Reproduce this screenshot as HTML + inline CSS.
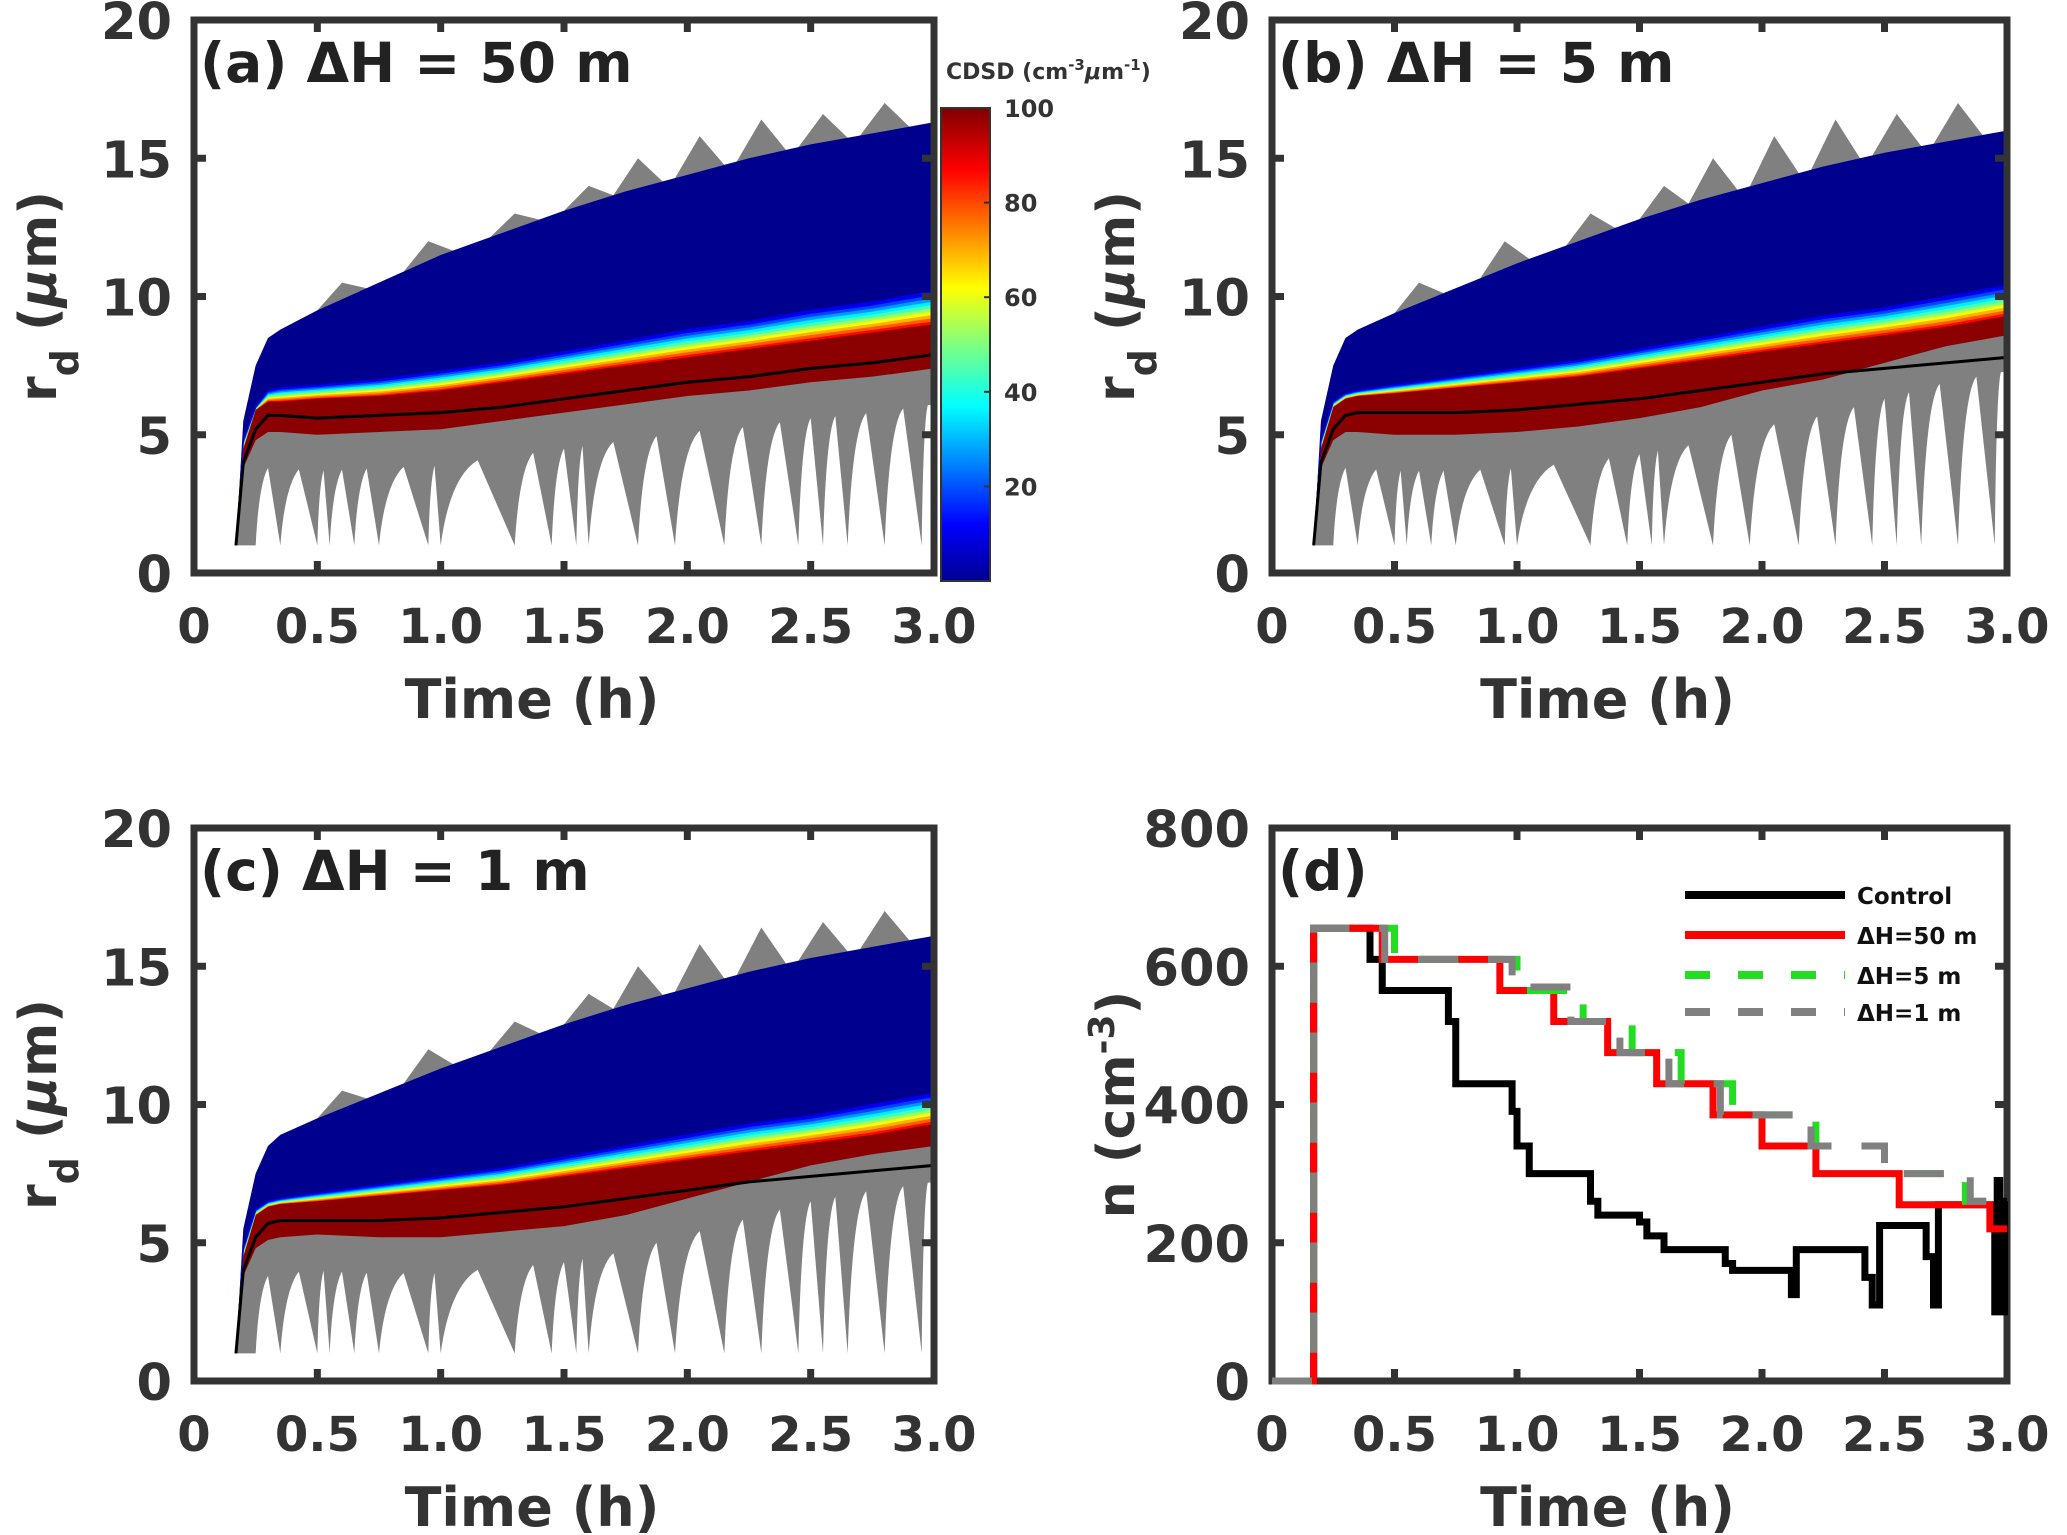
<!DOCTYPE html>
<html><head><meta charset="utf-8"><style>
html,body{margin:0;padding:0;background:#fff;}
svg{display:block;font-family:"DejaVu Sans","Liberation Sans",sans-serif;font-weight:bold;}
</style></head><body>
<svg id="fig" width="2067" height="1535" viewBox="0 0 2067 1535" xmlns="http://www.w3.org/2000/svg">
<defs>
<linearGradient id="jet" x1="0" y1="1" x2="0" y2="0">
<stop offset="0" stop-color="#00008f"/><stop offset="0.12" stop-color="#0000ff"/><stop offset="0.37" stop-color="#00ffff"/><stop offset="0.5" stop-color="#7fff7f"/><stop offset="0.62" stop-color="#ffff00"/><stop offset="0.87" stop-color="#ff0000"/><stop offset="1" stop-color="#800000"/>
</linearGradient>
</defs>
</svg>
<script>
// ---- density panel data (time in h, radius in µm) ----
const tGrid=[0.17,0.2,0.25,0.3,0.35,0.5,0.75,1.0,1.25,1.5,1.75,2.0,2.25,2.5,2.75,3.0];
const blueTopA=[1,5.5,7.5,8.5,8.8,9.5,10.5,11.5,12.3,13.1,13.8,14.4,15,15.5,15.9,16.3];
const modeA=[1,4,5.2,5.7,5.7,5.6,5.7,5.8,6,6.3,6.6,6.9,7.1,7.4,7.6,7.9];
const redBotA=[1,3.8,4.8,5.1,5.1,5,5.1,5.2,5.5,5.8,6.1,6.4,6.6,6.9,7.1,7.4];
const redTopA=[1,4.5,5.9,6.2,6.2,6.3,6.4,6.6,6.9,7.2,7.5,7.8,8.1,8.4,8.7,9];
const bandTopA=[1,4.8,6,6.6,6.7,6.8,7,7.3,7.6,8,8.4,8.8,9.1,9.5,9.8,10.2];
const blueTopB=[1,5.5,7.5,8.5,8.8,9.4,10.3,11.2,12,12.8,13.5,14.1,14.7,15.2,15.6,16];
const modeB=[1,4,5.2,5.7,5.8,5.8,5.8,5.9,6.1,6.3,6.6,6.9,7.2,7.4,7.6,7.8];
const redBotB=[1,3.8,4.8,5.1,5.1,5,5,5.1,5.3,5.6,6,6.6,7,7.6,8.2,8.6];
const redTopB=[1,4.5,6,6.3,6.4,6.5,6.7,6.9,7.1,7.4,7.7,8,8.3,8.6,8.9,9.3];
const bandTopB=[1,4.8,6.2,6.5,6.6,6.8,7.1,7.4,7.7,8.1,8.5,8.9,9.3,9.6,10,10.4];
const blueTopC=[1,5.5,7.5,8.5,8.9,9.5,10.4,11.3,12.1,12.9,13.6,14.2,14.8,15.3,15.7,16.1];
const modeC=[1,4,5.2,5.7,5.8,5.8,5.8,5.9,6.1,6.3,6.6,6.9,7.2,7.4,7.6,7.8];
const redBotC=[1,3.8,4.8,5.1,5.2,5.3,5.2,5.2,5.4,5.6,6,6.6,7.2,7.8,8.2,8.5];
const redTopC=[1,4.5,6,6.3,6.4,6.5,6.7,6.9,7.1,7.4,7.7,8,8.3,8.6,8.9,9.3];
const bandTopC=[1,4.8,6.2,6.5,6.6,6.8,7.1,7.4,7.7,8.1,8.5,8.9,9.3,9.6,10,10.4];
const peaksT=[0.6,0.95,1.3,1.6,1.8,2.05,2.3,2.55,2.8];
const peaksV=[10.5,12,13,14,15,15.8,16.4,16.6,17];
const spikesT=[0.25,0.35,0.5,0.55,0.65,0.75,0.95,1.0,1.3,1.45,1.55,1.6,1.8,1.95,2.15,2.3,2.45,2.55,2.65,2.8,2.95];
const rTicks=[0,5,10,15,20];
const tTicks=[0,0.5,1,1.5,2,2.5,3];
const tTickLabels=["0","0.5","1.0","1.5","2.0","2.5","3.0"];
// ---- panel (d) data: step series, value changes to n[i] at time t[i] ----
const ctrlT=[0,0.17,0.4,0.45,0.72,0.75,0.98,1.0,1.05,1.3,1.33,1.5,1.53,1.6,1.85,1.88,2.12,2.14,2.42,2.45,2.48,2.67,2.7,2.72,2.93,2.95,2.96,2.97,2.99];
const ctrlN=[0,655,610,565,520,430,390,340,300,260,240,230,210,190,170,160,125,190,150,110,225,180,110,255,255,100,290,100,260];
const h50T=[0,0.17,0.45,0.93,1.15,1.37,1.57,1.8,2.0,2.22,2.56,2.93];
const h50N=[0,655,610,565,520,475,430,385,340,300,255,220];
const h5T=[0,0.17,0.5,1.0,1.27,1.47,1.67,1.88,2.22,2.5,2.83];
const h5N=[0,655,610,565,520,475,430,385,340,300,260];
const h1T=[0,0.17,0.46,0.98,1.22,1.42,1.62,1.83,2.2,2.5,2.85];
const h1N=[0,655,610,570,520,475,430,385,340,300,260];
const nTicks=[0,200,400,600,800];
const cbTicks=[20,40,60,80,100];

const NS="http://www.w3.org/2000/svg";
const svg=document.getElementById('fig');
function mk(tag,at,parent){const e=document.createElementNS(NS,tag);for(const k in at)e.setAttribute(k,at[k]);(parent||svg).appendChild(e);return e;}
function interp(xs,ys,x){if(x<=xs[0])return ys[0];for(let i=1;i<xs.length;i++){if(x<=xs[i]){const f=(x-xs[i-1])/(xs[i]-xs[i-1]);return ys[i-1]+f*(ys[i]-ys[i-1]);}}return ys[ys.length-1];}
function jet(v){const s=[[0,[0,0,143]],[0.12,[0,0,255]],[0.37,[0,255,255]],[0.5,[127,255,127]],[0.62,[255,255,0]],[0.87,[255,0,0]],[1,[128,0,0]]];for(let i=1;i<s.length;i++){if(v<=s[i][0]){const f=(v-s[i-1][0])/(s[i][0]-s[i-1][0]);const c=s[i-1][1].map((a,j)=>Math.round(a+f*(s[i][1][j]-a)));return`rgb(${c})`;}}return'rgb(128,0,0)';}

function axes(L,R,T,B,ymax,yt,name){
  const X=t=>L+t/3*(R-L), Y=v=>B-v/ymax*(B-T);
  return {X,Y,L,R,T,B,name,ymax,yt};
}
function frame(ax,isN){
  const g=mk('g',{});
  
  
  mk('rect',{x:ax.L,y:ax.T,width:ax.R-ax.L,height:ax.B-ax.T,fill:'none',stroke:'#333',"stroke-width":7},g);
  tTicks.forEach((t,i)=>{const x=ax.X(t);
    if(i>0&&i<tTicks.length-1){mk('line',{x1:x,x2:x,y1:ax.B,y2:ax.B-12,stroke:'#333',"stroke-width":7},g);mk('line',{x1:x,x2:x,y1:ax.T,y2:ax.T+12,stroke:'#333',"stroke-width":7},g);}
    const tx=mk('text',{x:x,y:ax.B+70,"font-size":48,"text-anchor":"middle",fill:'#333'},g);tx.textContent=tTickLabels[i];
    });
  ax.yt.forEach((v,i)=>{const y=ax.Y(v);
    if(i>0&&i<ax.yt.length-1){mk('line',{x1:ax.L,x2:ax.L+12,y1:y,y2:y,stroke:'#333',"stroke-width":7},g);mk('line',{x1:ax.R,x2:ax.R-12,y1:y,y2:y,stroke:'#333',"stroke-width":7},g);}
    const tx=mk('text',{x:ax.L-22,y:y+19,"font-size":51,"text-anchor":"end",fill:'#333'},g);tx.textContent=v;
    });
  const xt=mk('text',{x:(ax.L+ax.R)/2-32,y:ax.B+145,"font-size":54,"text-anchor":"middle",fill:'#333'},g);xt.textContent='Time (h)';
  
  const yx=ax.L-138, yy=(ax.T+ax.B)/2;
  const yl=mk('text',{x:yx,y:yy,"font-size":52,"text-anchor":"middle",fill:'#333',transform:`rotate(-90 ${yx} ${yy})`},g);
  
  if(isN){yl.innerHTML='n (cm<tspan baseline-shift="super" font-size="36">-3</tspan>)';}
  else{yl.innerHTML='r<tspan baseline-shift="sub" font-size="38">d</tspan> (<tspan font-style="italic">μ</tspan>m)';}
}
function density(ax,blueTop,mode,redBot,redTop,bandTop,title){
  const g=mk('g',{});
  
  
  const X=ax.X,Y=ax.Y;
  let top=[];tGrid.forEach((t,i)=>top.push([t,blueTop[i]]));
  peaksT.forEach((pt,i)=>{top.push([pt-0.1,interp(tGrid,blueTop,pt-0.1)]);top.push([pt,peaksV[i]]);top.push([pt+0.1,interp(tGrid,blueTop,pt+0.1)]);});
  top.sort((a,b)=>a[0]-b[0]);
  let up=[];for(let i=0;i<top.length;i++){const p=top[i];const inPeak=peaksT.some(pt=>p[0]>pt-0.1+1e-6&&p[0]<pt+0.1-1e-6&&Math.abs(p[0]-pt)>1e-6);if(!inPeak)up.push(p);}
  let d='M'+up.map(p=>`${X(p[0])},${Y(p[1])}`).join(' L');
  const endT=3.0;
  d+=` L${X(endT)},${Y(interp(tGrid,redBot,endT)-1.3)}`;
  const sp=spikesT.slice().reverse();
  let prevX=endT;
  sp.forEach(s=>{
    const m=(prevX+s)/2; const hv=interp(tGrid,redBot,m)-1.3;
    // pointed white gap top at m, concave grey sides down to spike tip at s
    d+=` L${X(m)},${Y(hv)}`;
    d+=` Q${X(s+0.25*(m-s))},${Y(hv-0.6)} ${X(s)},${Y(1)}`;
    prevX=s;
  });
  d+=` L${X(0.17)},${Y(1)} Z`;
  const grey=mk('path',{d:d,fill:'#808080'},g);
  
  const bp=tGrid.map((t,i)=>`${X(t)},${Y(blueTop[i])}`).concat(tGrid.slice().reverse().map((t,j)=>{const i=tGrid.length-1-j;return`${X(t)},${Y(bandTop[i])}`;}));
  const blue=mk('polygon',{points:bp.join(' '),fill:'#00008f'},g);
  
  const N=10;
  for(let k=0;k<N;k++){
    const f0=k/N,f1=(k+1)/N;
    const lo=tGrid.map((t,i)=>redTop[i]+f0*(bandTop[i]-redTop[i]));
    const hi=tGrid.map((t,i)=>redTop[i]+f1*(bandTop[i]-redTop[i]));
    const pts=tGrid.map((t,i)=>`${X(t)},${Y(hi[i])}`).concat(tGrid.slice().reverse().map((t,j)=>{const i=tGrid.length-1-j;return`${X(t)},${Y(lo[i])}`;}));
    const p=mk('polygon',{points:pts.join(' '),fill:jet(0.95-0.85*f1),stroke:jet(0.95-0.85*f1),"stroke-width":1},g);
    
  }
  const rp=tGrid.map((t,i)=>`${X(t)},${Y(redTop[i])}`).concat(tGrid.slice().reverse().map((t,j)=>{const i=tGrid.length-1-j;return`${X(t)},${Y(redBot[i])}`;}));
  const red=mk('polygon',{points:rp.join(' '),fill:'#8b0000'},g);
  
  const ml=mk('polyline',{points:tGrid.map((t,i)=>`${X(t)},${Y(mode[i])}`).join(' '),fill:'none',stroke:'#000',"stroke-width":3},g);
  
  const tt=mk('text',{x:ax.L+6,y:ax.T+62,"font-size":55,fill:'#222'},g);tt.textContent=title;
  
}
const axA=axes(194,934,20,573,20,rTicks,'panel-a');
const axB=axes(1272,2007,20,573,20,rTicks,'panel-b');
const axC=axes(194,934,828,1381,20,rTicks,'panel-c');
const axD=axes(1272,2007,828,1381,800,nTicks,'panel-d');
density(axA,blueTopA,modeA,redBotA,redTopA,bandTopA,'(a) ΔH = 50 m');
density(axB,blueTopB,modeB,redBotB,redTopB,bandTopB,'(b) ΔH = 5 m');
density(axC,blueTopC,modeC,redBotC,redTopC,bandTopC,'(c) ΔH = 1 m');
frame(axA);frame(axB);frame(axC);frame(axD,true);

const cb=mk('g',{});


const cbT=108,cbB=581,cbL=941,cbR=990;
mk('rect',{x:cbL,y:cbT,width:cbR-cbL,height:cbB-cbT,fill:'url(#jet)',stroke:'#333',"stroke-width":2},cb);
cbTicks.forEach(v=>{const y=cbB-v/100*(cbB-cbT);mk('line',{x1:cbR,x2:cbR-6,y1:y,y2:y,stroke:'#333',"stroke-width":2},cb);
  const t=mk('text',{x:cbR+14,y:y+9,"font-size":24,fill:'#333'},cb);t.textContent=v;
  });
const cbl=mk('text',{x:946,y:79,"font-size":22,fill:'#333'},cb);
cbl.innerHTML='CDSD (cm<tspan baseline-shift="super" font-size="15">-3</tspan><tspan font-style="italic">μ</tspan>m<tspan baseline-shift="super" font-size="15">-1</tspan>)';


function step(ts,ns,color,dash,name){
  let d=`M${axD.X(ts[0])},${axD.Y(ns[0])}`;
  for(let i=1;i<ts.length;i++){d+=` H${axD.X(ts[i])} V${axD.Y(ns[i])}`;}
  d+=` H${axD.X(3)}`;
  const p=mk('path',{d:d,fill:'none',stroke:color,"stroke-width":7,"stroke-dasharray":dash||'none'});
  
}
step(ctrlT,ctrlN,'#000',null,'control-line');
step(h50T,h50N,'#ff0000',null,'dh50-line');
step(h5T,h5N,'#22dd22','40 30','dh5-line');
step(h1T,h1N,'#808080','40 30','dh1-line');
const dl=mk('text',{x:axD.L+6,y:axD.T+62,"font-size":55,fill:'#222'});dl.textContent='(d)';

const leg=mk('g',{});


[['Control','#000',null,895],['ΔH=50 m','#ff0000',null,935],['ΔH=5 m','#22dd22','25 28',975],['ΔH=1 m','#808080','25 28',1012]].forEach(e=>{
  mk('line',{x1:1685,x2:1845,y1:e[3],y2:e[3],stroke:e[1],"stroke-width":8,"stroke-dasharray":e[2]||'none'},leg);
  const t=mk('text',{x:1857,y:e[3]+9,"font-size":23,fill:'#111'},leg);t.textContent=e[0];
  
});
</script>
</body></html>
